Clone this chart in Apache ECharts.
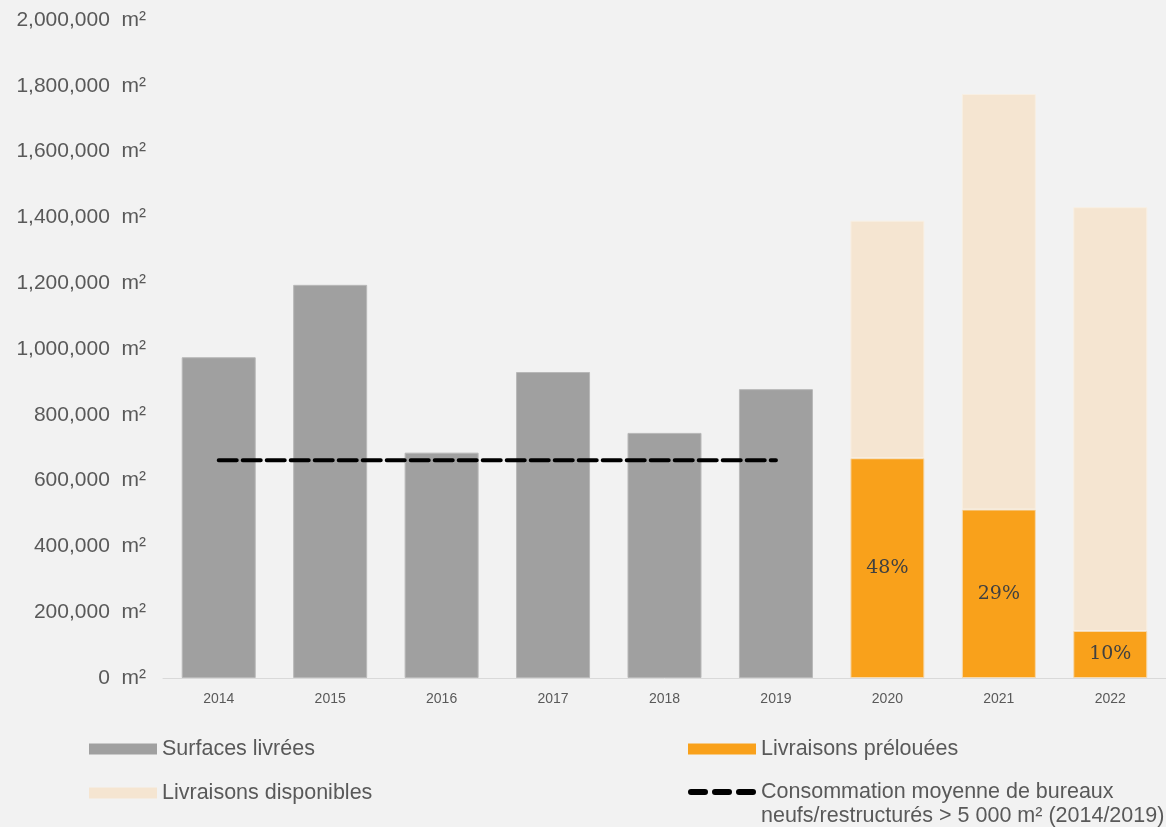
<!DOCTYPE html>
<html>
	<head>
		<meta charset="utf-8">
		<title>Livraisons de bureaux</title>
		<script src="https://cdn.jsdelivr.net/npm/echarts@6/dist/echarts.min.js"></script>
		<style type="text/css">
			html, body {
				margin: 0;
				padding: 0;
				background: #f2f2f2;
			}
			#main {
				width: 1166px;
				height: 827px;
			}
		</style>
	</head>
	<body>
		<div id="main"></div>
	</body>
</html>

<script type="text/javascript">
	// données
	var annees = ['2014', '2015', '2016', '2017', '2018', '2019', '2020', '2021', '2022'];
	var surfacesLivrees = [975000, 1195000, 685000, 930000, 745000, 878000, null, null, null];
	var livraisonsPrelouees = [null, null, null, null, null, null, 668000, 512000, 143000];
	var livraisonsDisponibles = [null, null, null, null, null, null, 722000, 1263000, 1288000];
	var consommationMoyenne = [662000, 662000, 662000, 662000, 662000, 662000, null, null, null];
	var tauxPrelocation = ['', '', '', '', '', '', '48%', '29%', '10%'];

	var gris = '#595959';
	var police = '"Liberation Sans", Arial, sans-serif';
	var nomConso = 'Consommation moyenne de bureaux neufs/restructurés > 5 000 m² (2014/2019)';

	var myChart = echarts.init(document.getElementById('main'));

	function formatM2(v) {
		return v.toLocaleString('en-US') + '  m²';
	}

	// trois tirets arrondis pour la légende de la moyenne
	var iconeTirets = 'path://M3,0H17A3,3 0 0 1 17,6H3A3,3 0 0 1 3,0Z' +
		'M27,0H41A3,3 0 0 1 41,6H27A3,3 0 0 1 27,0Z' +
		'M51,0H65A3,3 0 0 1 65,6H51A3,3 0 0 1 51,0Z';

	var legendeCommune = {
		itemWidth: 68,
		itemHeight: 11,
		itemGap: 0,
		itemStyle: { borderWidth: 0 },
		textStyle: {
			color: gris,
			fontSize: 21.5,
			fontFamily: police
		}
	};

	var option = {
		backgroundColor: '#f2f2f2',
		animation: false,
		grid: {
			left: 163,
			width: 1008,
			top: 20,
			bottom: 149
		},
		xAxis: {
			type: 'category',
			data: annees,
			axisLine: { lineStyle: { color: '#d9d9d9', width: 1 } },
			axisTick: { show: false },
			axisLabel: {
				color: gris,
				fontSize: 14,
				fontFamily: police,
				margin: 14
			}
		},
		yAxis: {
			type: 'value',
			min: 0,
			max: 2000000,
			interval: 200000,
			splitLine: { show: false },
			axisLine: { show: false },
			axisTick: { show: false },
			axisLabel: {
				color: gris,
				fontSize: 21,
				fontFamily: police,
				margin: 17,
				formatter: formatM2
			}
		},
		legend: [
			Object.assign({ left: 84, top: 733, data: [{ name: 'Surfaces livrées', icon: 'rect' }] }, legendeCommune),
			Object.assign({ left: 84, top: 777, data: [{ name: 'Livraisons disponibles', icon: 'rect' }] }, legendeCommune),
			Object.assign({ left: 683, top: 733, data: [{ name: 'Livraisons prélouées', icon: 'rect' }] }, legendeCommune),
			Object.assign({}, legendeCommune, {
				left: 683,
				top: 751,
				itemHeight: 6,
				data: [{ name: nomConso, icon: iconeTirets, itemStyle: { color: '#000000' } }],
				formatter: function () {
					return '\nConsommation moyenne de bureaux\nneufs/restructurés > 5 000 m² (2014/2019)';
				},
				textStyle: {
					color: gris,
					fontSize: 21.5,
					fontFamily: police,
					lineHeight: 24
				}
			})
		],
		series: [
			{
				name: 'Surfaces livrées',
				type: 'bar',
				stack: 'total',
				barWidth: 74,
				data: surfacesLivrees,
				itemStyle: { color: '#a0a0a0', borderColor: '#b8b8b8', borderWidth: 1 }
			},
			{
				name: 'Livraisons prélouées',
				type: 'bar',
				stack: 'total',
				barWidth: 74,
				data: livraisonsPrelouees,
				itemStyle: { color: '#f9a11b', borderColor: '#f6d9ae', borderWidth: 1 },
				label: {
					show: true,
					position: 'inside',
					color: '#404040',
					fontSize: 19,
					fontFamily: 'Georgia, "DejaVu Serif", serif',
					formatter: function (p) {
						return tauxPrelocation[p.dataIndex];
					}
				}
			},
			{
				name: 'Livraisons disponibles',
				type: 'bar',
				stack: 'total',
				barWidth: 74,
				data: livraisonsDisponibles,
				itemStyle: { color: '#f5e5d1', borderColor: '#f8efe3', borderWidth: 1 }
			},
			{
				name: nomConso,
				type: 'line',
				data: consommationMoyenne,
				symbol: 'none',
				itemStyle: { color: '#000000' },
				lineStyle: {
					color: '#000000',
					width: 4,
					type: [18, 6],
					cap: 'round'
				},
				z: 5
			}
		]
	};

	myChart.setOption(option);
</script>
